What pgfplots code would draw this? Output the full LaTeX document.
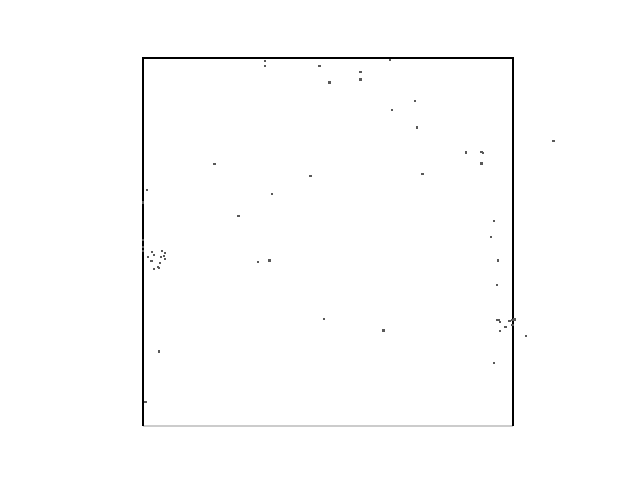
\documentclass[border=0pt]{standalone}
\usepackage{pgfplots}
\pgfplotsset{compat=1.18}
\begin{document}
\begin{tikzpicture}[x=1pt,y=1pt]
\path[use as bounding box] (0,0) rectangle (480,360);
\begin{axis}[
  at={(107.25pt,40.5pt)}, anchor=south west,
  scale only axis, width=277.5pt, height=276pt,
  xmin=0, xmax=370, ymin=0, ymax=368,
  ticks=none, axis line style={draw=none},
  clip=false,
]
\addplot[only marks, mark=square*, mark size=0.55pt, draw=black!65, fill=black!65] coordinates {
(122,365) (122,360.3) (176.3,360.3) (186.3,343.7) (71.3,262.3) (167.3,250)
(246.7,366.3) (217.3,354) (217.3,346.7) (272,325.3) (249,316) (273.7,298.7)
(322.7,273.7) (338.3,274.3) (339.7,273.3) (338.3,262.7) (279.3,252.3) (410.3,285.3)
(129,232) (3.7,236) (-0.3,223.7) (95.3,210.3) (-0.3,186) (-0.3,179.3) (-0.3,175)
(8.7,174.3) (18.7,175.3) (22,173) (10.7,171) (20.7,170) (5,169.3) (17.7,169.3)
(21.7,167.3) (8.3,165) (16.7,163) (15,159.3) (16,158.3) (11,157) (115,164) (126.3,165.7)
(350.7,205.3) (347.7,189) (354.7,165.7) (353.7,141) (180.7,107) (16,74.7) (2.3,24)
(240.3,95.7) (354,106.3) (356,106.3) (357,104) (365.7,105) (366.7,105.3) (369,106.3)
(371.3,106.7) (362.3,99.3) (369.3,101.3) (357,95) (383,90) (350.7,63.3)
};
\draw[black!20, line width=0.8pt] (rel axis cs:0,0) -- (rel axis cs:1,0);
\draw[black, line width=0.8pt] (rel axis cs:0,0) -- (rel axis cs:0,1) -- (rel axis cs:1,1) -- (rel axis cs:1,0);
\end{axis}
\end{tikzpicture}
\end{document}
